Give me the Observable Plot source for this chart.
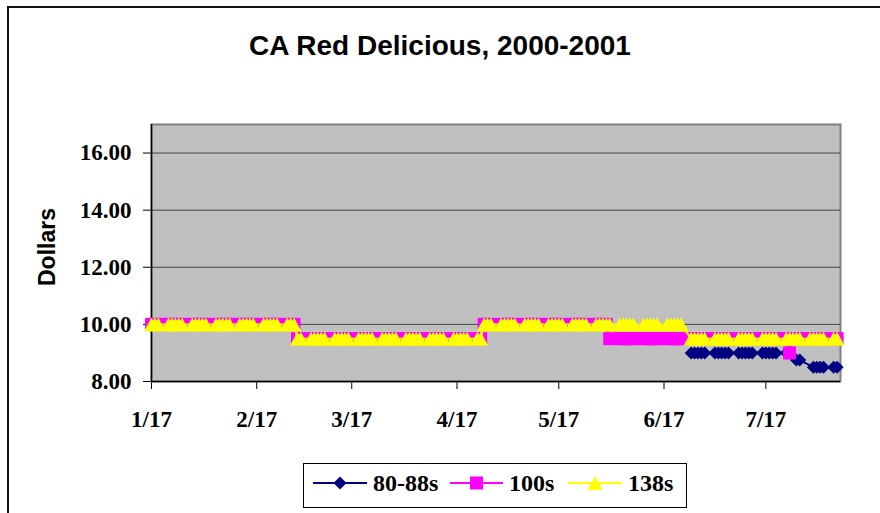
<!DOCTYPE html>
<html><head><meta charset="utf-8">
<script src="https://cdn.jsdelivr.net/npm/d3@7"></script>
<script src="https://cdn.jsdelivr.net/npm/@observablehq/plot@0.6"></script>
<style>
html,body{margin:0;padding:0;background:#fff;}
#chart{position:relative;width:880px;height:513px;overflow:hidden;background:#fff;}
#border{position:absolute;left:7px;top:6px;width:900px;height:600px;border:2px solid #111;box-sizing:border-box;}
#title{position:absolute;left:0;top:32px;width:880px;text-align:center;font:bold 28px/28px 'Liberation Sans',Arial,sans-serif;color:#000;}
#ylabel{position:absolute;left:47px;top:247px;transform:translate(-50%,-50%) rotate(-90deg);font:bold 23px 'Liberation Sans',Arial,sans-serif;white-space:nowrap;color:#000;}
#plot{position:absolute;left:0;top:0;}
#legend{position:absolute;left:0;top:0;}
</style></head><body>
<div id="chart">
  <div id="border"></div>
  <div id="title">CA Red Delicious, 2000-2001</div>
  <div id="ylabel">Dollars</div>
  <div id="plot"></div>
  <svg id="legend" width="880" height="513"></svg>
</div>
<script>
// ---- data ----
const seriesNames = ["80-88s", "100s", "138s"];
const seriesColors = ["#000080", "#ff00ff", "#ffff00"];
// runs of constant price: [first trading day, last trading day, price]; one point per weekday
const runs8088 = [
  ["2001-06-25", "2001-07-24", 9.00],
  ["2001-07-26", "2001-07-27", 8.75],
  ["2001-07-31", "2001-08-07", 8.50]
];
const runs100 = [
  ["2001-01-17", "2001-02-28", 10.00],
  ["2001-03-01", "2001-04-24", 9.50],
  ["2001-04-25", "2001-05-31", 10.00],
  ["2001-06-01", "2001-07-23", 9.50],
  ["2001-07-24", "2001-07-24", 9.00],
  ["2001-07-25", "2001-08-07", 9.50]
];
const runs138 = [
  ["2001-01-17", "2001-02-28", 10.00],
  ["2001-03-01", "2001-04-24", 9.50],
  ["2001-04-25", "2001-06-22", 10.00],
  ["2001-06-25", "2001-08-07", 9.50]
];
const xDomain = ["2001-01-17", "2001-08-08"];
const xTicks = ["2001-01-17", "2001-02-17", "2001-03-17", "2001-04-17", "2001-05-17", "2001-06-17", "2001-07-17"];
const yDomain = [8, 17];
const yTicks = [8, 10, 12, 14, 16];

// ---- build ----
const D = s => new Date(s + "T00:00:00Z");
function expand(runs, name) {
  const out = [];
  for (const [a, b, price] of runs) {
    for (let d = D(a); d <= D(b); d = new Date(+d + 864e5)) {
      const wd = d.getUTCDay();
      if (wd !== 0 && wd !== 6) out.push({date: d, price, series: name});
    }
  }
  return out;
}
const data = [expand(runs8088, seriesNames[0]), expand(runs100, seriesNames[1]), expand(runs138, seriesNames[2])];

const triSym = {draw(ctx, size) { const r = Math.sqrt(size / Math.PI); const w = r * 1.3, h = r * 1.2; ctx.moveTo(0, -h); ctx.lineTo(w, h); ctx.lineTo(-w, h); ctx.closePath(); }};
const sqSym = {draw(ctx, size) { const r = Math.sqrt(size / Math.PI); ctx.rect(-r, -r, 2 * r, 2 * r); }};
const diaSym = {draw(ctx, size) { const r = Math.sqrt(size / Math.PI); ctx.moveTo(0, -r); ctx.lineTo(r, 0); ctx.lineTo(0, r); ctx.lineTo(-r, 0); ctx.closePath(); }};
const syms = [diaSym, sqSym, triSym];
const radii = [6.5, 6.5, 5.75];

const marks = [
  Plot.frame({fill: "#c0c0c0", stroke: "#808080", strokeWidth: 2}),
  Plot.ruleY(yTicks.filter(v => v > yDomain[0]), {stroke: "#444", strokeWidth: 1}),
  Plot.ruleX([D(xDomain[0])], {stroke: "#000", strokeWidth: 1.5}),
  Plot.ruleY([yDomain[0]], {stroke: "#000", strokeWidth: 1.5})
];
data.forEach((d, i) => {
  marks.push(Plot.line(d, {x: "date", y: "price", stroke: seriesColors[i], strokeWidth: 2, clip: false}));
  marks.push(Plot.dot(d, {x: "date", y: "price", r: radii[i], symbol: syms[i], fill: seriesColors[i], stroke: "none"}));
});

const plot = Plot.plot({
  width: 880, height: 513,
  marginLeft: 151, marginRight: 40, marginTop: 124, marginBottom: 132,
  style: {background: "transparent", fontFamily: "'Liberation Serif','Times New Roman',serif", fontSize: "23px", fontWeight: "bold", color: "#000", overflow: "visible"},
  x: {type: "utc", domain: xDomain.map(D), ticks: xTicks.map(D), tickFormat: d => `${d.getUTCMonth() + 1}/${d.getUTCDate()}`, tickSize: 8, tickPadding: 21, label: null},
  y: {domain: yDomain, ticks: yTicks, tickFormat: d => d.toFixed(2), tickSize: 8, tickPadding: 12, label: null},
  marks
});
document.getElementById("plot").appendChild(plot);

// ---- legend ----
const lg = d3.select("#legend");
lg.append("rect").attr("x", 303.5).attr("y", 463.5).attr("width", 383).attr("height", 44).attr("fill", "#fff").attr("stroke", "#000").attr("stroke-width", 1);
const items = [
  {x0: 313, x1: 367, tx: 373},
  {x0: 450, x1: 503, tx: 509},
  {x0: 568, x1: 622, tx: 628}
];
const ly = 483;
items.forEach((it, i) => {
  lg.append("line").attr("x1", it.x0).attr("x2", it.x1).attr("y1", ly).attr("y2", ly).attr("stroke", seriesColors[i]).attr("stroke-width", 2);
  const r = radii[i];
  lg.append("path").attr("transform", `translate(${(it.x0 + it.x1) / 2},${ly})`).attr("d", d3.symbol(syms[i], Math.PI * r * r)()).attr("fill", seriesColors[i]);
  lg.append("text").attr("x", it.tx).attr("y", ly).attr("dy", "0.34em").attr("font-family", "'Liberation Serif','Times New Roman',serif").attr("font-weight", "bold").attr("font-size", 24).text(seriesNames[i]);
});
</script>
</body></html>
